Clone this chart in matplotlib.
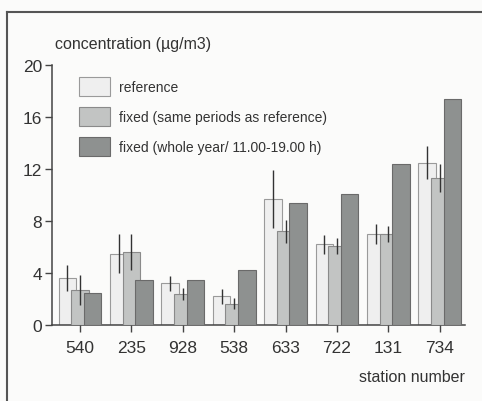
import matplotlib
matplotlib.use("Agg")
import matplotlib.pyplot as plt
import numpy as np
from matplotlib.font_manager import fontManager
from matplotlib.lines import Line2D

names = {f.name for f in fontManager.ttflist}
fam = 'Liberation Sans Narrow' if 'Liberation Sans Narrow' in names else 'Liberation Sans'
plt.rcParams['font.family'] = [fam, 'DejaVu Sans']

stations = ['540', '235', '928', '538', '633', '722', '131', '734']
reference = [3.6, 5.5, 3.2, 2.2, 9.7, 6.2, 7.0, 12.5]
reference_err = [1.0, 1.5, 0.6, 0.55, 2.2, 0.7, 0.8, 1.25]
fixed_same = [2.7, 5.6, 2.4, 1.65, 7.2, 6.1, 7.0, 11.3]
fixed_same_err = [1.15, 1.4, 0.45, 0.4, 0.9, 0.6, 0.6, 1.1]
fixed_year = [2.45, 3.5, 3.5, 4.25, 9.4, 10.05, 12.4, 17.4]
labels = ['reference', 'fixed (same periods as reference)', 'fixed (whole year/ 11.00-19.00 h)']

fig = plt.figure(figsize=(4.82, 4.02), dpi=100)
fig.patch.set_facecolor('#fbfbfa')
ax = fig.add_axes([52/482, 1-326/402, (465-52)/482, (326-66)/402])
ax.set_facecolor('#fbfbfa')

x = np.arange(len(stations))
w = 0.34
off = 0.245
cols = ['#efefef', '#c2c4c3', '#8e9190']
edges = ['#9a9a9a', '#8a8a8a', '#6a6a6a']
b1 = ax.bar(x - off, reference, w, color=cols[0], edgecolor=edges[0], linewidth=0.8, zorder=2)
b2 = ax.bar(x, fixed_same, w, color=cols[1], edgecolor=edges[1], linewidth=0.8, zorder=3)
b3 = ax.bar(x + off, fixed_year, w, color=cols[2], edgecolor=edges[2], linewidth=0.8, zorder=4)
ax.errorbar(x - off, reference, yerr=reference_err, fmt='none', ecolor='#333333', elinewidth=1.0, capsize=0, zorder=5)
ax.errorbar(x, fixed_same, yerr=fixed_same_err, fmt='none', ecolor='#333333', elinewidth=1.0, capsize=0, zorder=5)

ax.set_xlim(-0.545, 7.49)
ax.set_ylim(0, 20)
ax.set_yticks([0, 4, 8, 12, 16, 20])
ax.set_xticks(x)
ax.set_xticklabels(stations)
for s in ['top', 'right']:
    ax.spines[s].set_visible(False)
for s in ['left', 'bottom']:
    ax.spines[s].set_color('#444444')
    ax.spines[s].set_linewidth(1.1)
ax.tick_params(axis='both', colors='#444444', labelcolor='#333333', labelsize=12.5, length=5, width=1.0)
ax.tick_params(axis='x', pad=6)
ax.tick_params(axis='y', pad=2)

fig.text(55/482, 1-45/402, 'concentration (µg/m3)', fontsize=11.5, color='#333333', va='center', ha='left')
fig.text(465/482, 1-378/402, 'station number', fontsize=11.5, color='#333333', va='center', ha='right')

leg = ax.legend([b1, b2, b3], labels, loc='upper left', bbox_to_anchor=(0.052, 0.975),
                borderaxespad=0, frameon=False, fontsize=10, handlelength=2.2, handleheight=1.7,
                labelspacing=0.82, handletextpad=0.7, labelcolor='#333333')

fig.add_artist(Line2D([7/482, 7/482], [0, 1-13/402], transform=fig.transFigure, color='#555555', lw=1.5))
fig.add_artist(Line2D([7/482, 1], [1-13/402, 1-13/402], transform=fig.transFigure, color='#555555', lw=1.5))

fig.savefig('out.png', dpi=100, facecolor=fig.get_facecolor())
